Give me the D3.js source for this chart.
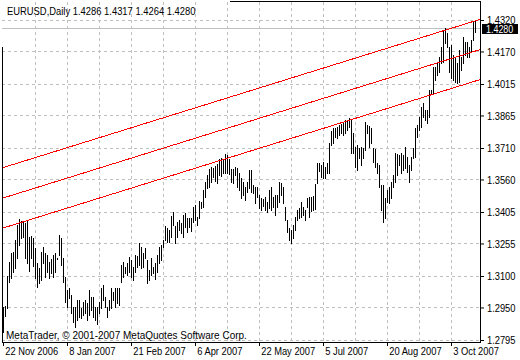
<!DOCTYPE html>
<html><head><meta charset="utf-8">
<script src="https://cdn.jsdelivr.net/npm/d3@7"></script>
<style>
body{margin:0;background:#fff}
svg{display:block}
text{font-family:"Liberation Sans",Arial,sans-serif;font-size:11px;fill:#000}
</style>
</head><body>
<svg id="c" width="520" height="360"></svg>
<script>
// ---------- data ----------
const symbolName = "EURUSD,Daily";
const lastOHLC = [1.4286, 1.4317, 1.4264, 1.4280];
const copyright = "MetaTrader, \u00A9 2001-2007 MetaQuotes Software Corp.";
const priceTicks = [1.4320,1.4170,1.4015,1.3865,1.3710,1.3560,1.3405,1.3255,1.3100,1.2950,1.2795];
const dateLabels = ["22 Nov 2006","8 Jan 2007","21 Feb 2007","6 Apr 2007","22 May 2007","5 Jul 2007","20 Aug 2007","3 Oct 2007"];
const dateLabelBars = [0,32,64,96,128,160,192,224];
const gridBars = [16,32,48,64,80,96,112,128,144,160,176,192,208,224];
const highs = [
1.2952,1.2957,1.3100,1.3166,1.3209,1.3214,1.3271,1.3343,1.3371,1.3362,
1.3357,1.3352,1.3362,1.3285,1.3290,1.3281,1.3233,1.3161,1.3138,1.3214,
1.3238,1.3209,1.3200,1.3166,1.3181,1.3200,1.3209,1.3185,1.3295,1.3281,
1.3185,1.3095,1.3033,1.3042,1.3009,1.2952,1.2952,1.2985,1.2985,1.2947,
1.2976,1.2985,1.2971,1.3033,1.2999,1.2999,1.2952,1.2952,1.2976,1.3042,
1.3057,1.2999,1.2952,1.2985,1.3042,1.3023,1.3042,1.3042,1.3042,1.3152,
1.3166,1.3142,1.3161,1.3190,1.3176,1.3142,1.3200,1.3195,1.3257,1.3238,
1.3209,1.3233,1.3176,1.3128,1.3185,1.3142,1.3161,1.3200,1.3238,1.3247,
1.3271,1.3338,1.3328,1.3319,1.3386,1.3405,1.3338,1.3357,1.3367,1.3352,
1.3390,1.3400,1.3376,1.3376,1.3376,1.3428,1.3438,1.3381,1.3457,1.3452,
1.3509,1.3548,1.3581,1.3610,1.3619,1.3614,1.3624,1.3633,1.3657,1.3662,
1.3657,1.3681,1.3676,1.3657,1.3610,1.3610,1.3619,1.3614,1.3590,1.3567,
1.3548,1.3524,1.3548,1.3605,1.3605,1.3533,1.3524,1.3524,1.3486,1.3471,
1.3467,1.3476,1.3452,1.3509,1.3524,1.3476,1.3486,1.3486,1.3548,1.3543,
1.3524,1.3428,1.3367,1.3328,1.3319,1.3343,1.3381,1.3414,1.3424,1.3452,
1.3428,1.3414,1.3471,1.3476,1.3476,1.3481,1.3538,1.3638,1.3638,1.3629,
1.3643,1.3619,1.3638,1.3733,1.3791,1.3805,1.3805,1.3810,1.3819,1.3824,
1.3834,1.3843,1.3843,1.3853,1.3843,1.3781,1.3714,1.3724,1.3710,1.3714,
1.3710,1.3834,1.3819,1.3815,1.3805,1.3710,1.3705,1.3638,1.3629,1.3533,
1.3533,1.3471,1.3509,1.3524,1.3548,1.3581,1.3686,1.3681,1.3676,1.3686,
1.3676,1.3714,1.3667,1.3629,1.3667,1.3710,1.3805,1.3819,1.3857,1.3905,
1.3924,1.3891,1.3891,1.3986,1.3986,1.4096,1.4096,1.4120,1.4143,1.4191,
1.4272,1.4282,1.4258,1.4191,1.4201,1.4153,1.4139,1.4115,1.4177,1.4143,
1.4239,1.4215,1.4215,1.4191,1.4224,1.4310,1.4317];
const lows = [
1.2833,1.2909,1.2947,1.3071,1.3090,1.3119,1.3138,1.3185,1.3247,1.3281,
1.3285,1.3185,1.3161,1.3123,1.3185,1.3147,1.3090,1.3047,1.3066,1.3081,
1.3161,1.3095,1.3119,1.3090,1.3114,1.3095,1.3119,1.3181,1.3200,1.3152,
1.3071,1.2976,1.2952,1.2995,1.2923,1.2880,1.2857,1.2890,1.2904,1.2899,
1.2914,1.2923,1.2890,1.2914,1.2938,1.2904,1.2890,1.2871,1.2923,1.2947,
1.2985,1.2952,1.2904,1.2938,1.2947,1.2985,1.2952,1.2971,1.2961,1.3071,
1.3095,1.3114,1.3104,1.3119,1.3095,1.3081,1.3119,1.3142,1.3152,1.3138,
1.3142,1.3185,1.3066,1.3081,1.3104,1.3114,1.3085,1.3119,1.3161,1.3176,
1.3238,1.3271,1.3262,1.3262,1.3285,1.3343,1.3257,1.3285,1.3319,1.3305,
1.3285,1.3333,1.3309,1.3333,1.3314,1.3357,1.3367,1.3343,1.3376,1.3424,
1.3428,1.3476,1.3519,1.3524,1.3548,1.3571,1.3552,1.3543,1.3581,1.3576,
1.3590,1.3590,1.3590,1.3586,1.3548,1.3543,1.3581,1.3524,1.3509,1.3471,
1.3486,1.3462,1.3500,1.3519,1.3500,1.3495,1.3448,1.3476,1.3424,1.3414,
1.3433,1.3414,1.3405,1.3424,1.3414,1.3428,1.3390,1.3428,1.3452,1.3486,
1.3448,1.3367,1.3309,1.3271,1.3257,1.3281,1.3319,1.3367,1.3376,1.3381,
1.3390,1.3367,1.3428,1.3381,1.3409,1.3414,1.3419,1.3543,1.3600,1.3571,
1.3567,1.3567,1.3590,1.3590,1.3724,1.3733,1.3762,1.3757,1.3772,1.3781,
1.3772,1.3781,1.3795,1.3810,1.3686,1.3686,1.3619,1.3605,1.3662,1.3629,
1.3662,1.3700,1.3781,1.3714,1.3733,1.3643,1.3619,1.3590,1.3524,1.3414,
1.3357,1.3376,1.3452,1.3448,1.3471,1.3524,1.3548,1.3581,1.3629,1.3590,
1.3605,1.3614,1.3595,1.3548,1.3605,1.3662,1.3667,1.3762,1.3795,1.3810,
1.3857,1.3843,1.3829,1.3857,1.3967,1.3972,1.4034,1.4058,1.4072,1.4115,
1.4120,1.4210,1.4191,1.4072,1.4043,1.4034,1.4024,1.4019,1.4024,1.4081,
1.4115,1.4153,1.4143,1.4143,1.4167,1.4224,1.4264];
// channel trend lines: anchor bar and price at each end
const channelStart = [-0.5, -0.5, -0.5];
const channelStartPrice = [1.3615, 1.3470, 1.3327];
const channelEnd = [238.5, 238.5, 238.5];
const channelEndPrice = [1.4323, 1.4179, 1.4036];

// ---------- drawing ----------
const L = 2, R = 480, T = 2, B = 342;
const svg = d3.select("#c");
const x = d3.scaleLinear().domain([0, highs.length - 1]).range([3, 3 + 2 * (highs.length - 1)]);
const y = d3.scaleLinear().domain([1.2795, 1.4320]).range([340, 20]);
const px = v => Math.round(v) + 0.5;

svg.append("rect").attr("width", 520).attr("height", 360).attr("fill", "#fff");

svg.append("clipPath").attr("id", "plotclip").append("rect")
  .attr("x", L).attr("y", T).attr("width", R - L).attr("height", B - T);

// grid
const grid = svg.append("g").attr("stroke", "#c0c0c0").attr("stroke-dasharray", "3,3")
  .attr("shape-rendering", "crispEdges");
grid.selectAll("line.h").data(priceTicks).join("line").attr("class", "h")
  .attr("x1", L).attr("x2", R).attr("y1", d => px(y(d))).attr("y2", d => px(y(d)));
grid.selectAll("line.v").data(gridBars).join("line").attr("class", "v")
  .attr("x1", d => px(x(d))).attr("x2", d => px(x(d))).attr("y1", T).attr("y2", B);

// bid line
svg.append("line").attr("x1", L).attr("x2", R)
  .attr("y1", px(y(lastOHLC[3]))).attr("y2", px(y(lastOHLC[3])))
  .attr("stroke", "#c0c0c0").attr("shape-rendering", "crispEdges");

// bars
svg.append("g").attr("shape-rendering", "crispEdges").attr("fill", "#000")
  .selectAll("rect").data(highs).join("rect")
  .attr("x", (d, i) => Math.round(x(i)))
  .attr("y", d => Math.round(y(d)))
  .attr("width", 1)
  .attr("height", (d, i) => Math.max(1, Math.round(y(lows[i])) - Math.round(y(d)) + 1));

// channel lines
const lineGen = d3.line().x(d => x(d[0])).y(d => y(d[1]));
svg.append("g").attr("clip-path", "url(#plotclip)")
  .selectAll("path").data(channelStart.map((s, k) => [[s, channelStartPrice[k]], [channelEnd[k], channelEndPrice[k]]]))
  .join("path").attr("d", lineGen).attr("fill", "none").attr("stroke", "#ff0000")
  .attr("stroke-width", 1).attr("shape-rendering", "crispEdges");

// frame / axis lines
svg.append("g").attr("stroke", "#000").attr("shape-rendering", "crispEdges")
  .call(g => {
    g.append("line").attr("x1", R + 0.5).attr("x2", R + 0.5).attr("y1", 1).attr("y2", B + 1);
    g.append("line").attr("x1", L).attr("x2", R + 1).attr("y1", B + 0.5).attr("y2", B + 0.5);
    g.append("line").attr("x1", 230).attr("x2", R + 1).attr("y1", 1.5).attr("y2", 1.5);
    g.append("line").attr("x1", L + 0.5).attr("x2", L + 0.5).attr("y1", 47).attr("y2", B + 1);
  });

// right price axis
const ya = svg.append("g").attr("transform", `translate(${R + 1},0)`)
  .call(d3.axisRight(y).tickValues(priceTicks).tickSize(3).tickSizeOuter(0).tickPadding(3)
    .tickFormat(d3.format(".4f")));
ya.select(".domain").remove();
ya.selectAll("text").attr("font-family", null).attr("font-size", "10.5px")
  .attr("x", 7).attr("dy", "0.32em").attr("transform", "scale(0.85,1)");

// bottom time axis
const xa = svg.append("g").attr("transform", `translate(0,${B + 1})`)
  .call(d3.axisBottom(x).tickValues(dateLabelBars).tickSize(3).tickSizeOuter(0)
    .tickFormat((d, i) => dateLabels[i]));
xa.select(".domain").remove();
xa.selectAll("text").attr("font-family", null).attr("font-size", null)
  .attr("text-anchor", "start").attr("x", 2).attr("y", 12).attr("dy", 0)
  .attr("transform", "scale(0.85,1)");

// current price label
const lp = Math.round(y(lastOHLC[3]));
svg.append("rect").attr("x", R + 2).attr("y", lp - 4).attr("width", 36).attr("height", 10).attr("fill", "#000");
svg.append("text").attr("transform", `translate(${R + 6},${lp + 5}) scale(0.85,1)`)
  .style("fill", "#fff").style("font-size", "10.5px")
  .text(d3.format(".4f")(lastOHLC[3]));

// header and copyright
svg.append("text").attr("transform", "translate(7,15) scale(0.855,1)")
  .text(symbolName + "  " + lastOHLC.map(d3.format(".4f")).join(" "));
svg.append("text").attr("transform", "translate(6,339) scale(0.91,1)").text(copyright);
</script>
</body></html>
